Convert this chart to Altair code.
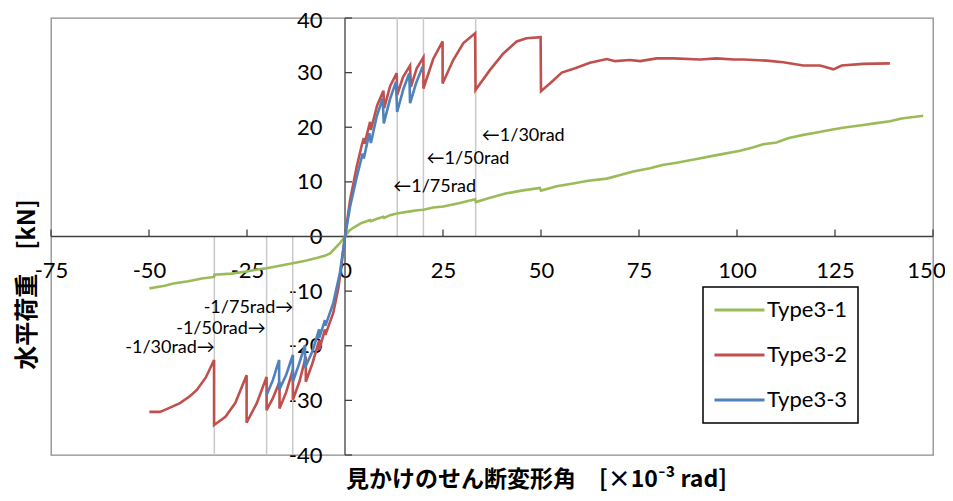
import altair as alt
import pandas as pd

# ---- data ----
series_names = ["Type3-1", "Type3-2", "Type3-3"]
series_colors = ["#9BBB59", "#C0504D", "#4F81BD"]

type3_1_x = [-49.9, -46.0, -43.8, -40.0, -36.5, -33.4, -33.3, -29.0, -25.1, -22.0, -20.0, -17.0,
             -14.0, -12.0, -9.8, -7.0, -5.0, -3.8, -3.0, -1.3, 0.0, 1.0, 2.1, 4.0, 5.5, 6.4, 6.6,
             8.0, 9.8, 10.0, 11.5, 13.2, 16.6, 18.5, 20.0, 22.5, 25.1, 29.0, 33.2, 33.4, 37.0, 41.2,
             45.0, 49.7, 50.0, 54.0, 58.2, 62.0, 66.8, 70.0, 73.5, 77.8, 81.0, 84.6, 89.7, 94.8,
             100.8, 104.0, 106.7, 110.1, 113.0, 116.9, 120.0, 123.7, 127.0, 132.2, 136.0, 139.0,
             142.0, 147.5]
type3_1_y = [-9.5, -9.0, -8.6, -8.2, -7.7, -7.4, -7.0, -6.8, -6.4, -6.0, -5.8, -5.4,
             -5.0, -4.7, -4.4, -3.9, -3.5, -3.1, -2.5, -1.2, 0.0, 1.0, 1.6, 2.4, 2.8, 3.0, 2.8,
             3.2, 3.6, 3.4, 3.9, 4.2, 4.6, 4.8, 4.9, 5.3, 5.5, 6.1, 6.8, 6.3, 7.1, 7.9,
             8.4, 8.9, 8.4, 9.2, 9.7, 10.2, 10.6, 11.2, 11.9, 12.5, 13.1, 13.5, 14.2, 14.9,
             15.7, 16.3, 16.9, 17.2, 18.0, 18.6, 19.0, 19.5, 19.9, 20.4, 20.8, 21.1,
             21.6, 22.1]

type3_2_x = [-49.9, -47.2, -45.5, -42.1, -39.5, -37.8, -35.5, -33.4, -33.4, -30.5, -28.0, -25.1,
             -25.1, -22.5, -20.0, -20.0, -18.4, -16.7, -16.7, -15.0, -13.3, -13.3, -11.6, -10.0,
             -10.0, -8.3, -6.6, -6.6, -5.1, -5.0, -4.5, -3.0, -1.7, -0.9, 0.0,
             1.3, 3.0, 4.3, 4.8, 5.0, 6.4, 6.6, 8.2, 9.8, 10.0, 11.5, 13.2, 13.3, 14.8, 16.6, 16.8,
             18.3, 20.0, 20.0, 22.5, 24.9, 24.9, 27.6, 30.2, 33.2, 33.3, 37.0, 40.4, 43.8, 46.3,
             49.9, 50.0, 52.7, 55.3, 58.7, 62.5, 66.8, 68.9, 72.7, 75.3, 79.5, 83.8, 90.6, 94.8,
             99.1, 101.6, 107.6, 111.8, 116.9, 121.2, 124.6, 126.7, 132.2, 139.0]
type3_2_y = [-32.1, -32.1, -31.6, -30.5, -29.2, -28.1, -25.8, -22.6, -34.5, -33.0, -30.5, -25.4,
             -34.1, -30.5, -25.7, -31.8, -29.6, -26.6, -31.5, -28.5, -24.4, -29.9, -26.5, -22.0,
             -26.6, -23.2, -19.0, -20.8, -17.0, -18.0, -17.0, -14.0, -9.5, -5.2, 0.0,
             6.7, 12.8, 16.8, 18.0, 17.0, 21.0, 19.5, 24.0, 26.7, 23.5, 27.5, 29.9, 25.9, 29.2, 31.3, 27.4,
             30.8, 32.8, 27.1, 32.5, 35.7, 28.0, 32.3, 35.4, 37.2, 26.8, 30.5, 33.5, 35.7, 36.3,
             36.5, 26.6, 28.3, 30.0, 30.8, 31.8, 32.5, 32.1, 32.3, 32.1, 32.6, 32.6, 32.4, 32.6,
             32.4, 32.4, 32.2, 31.9, 31.3, 31.3, 30.6, 31.3, 31.6, 31.7]

type3_3_x = [-20.0, -18.4, -16.8, -16.8, -15.0, -13.3, -13.3, -11.8, -10.2, -10.2, -8.3, -6.6,
             -6.6, -5.1, -5.0, -4.5, -3.0, -1.3, 0.0,
             1.3, 3.0, 4.5, 4.8, 6.2, 6.6, 8.1, 9.6, 9.9, 11.5, 13.0, 13.3, 14.9, 16.4, 16.6,
             18.2, 19.8]
type3_3_y = [-29.0, -26.3, -22.6, -28.1, -25.3, -21.7, -26.6, -23.5, -19.9, -24.0, -21.0, -17.0,
             -18.6, -15.3, -16.3, -15.3, -12.2, -6.7, 0.0,
             5.5, 10.9, 15.2, 14.3, 18.9, 17.1, 22.0, 25.3, 20.7, 25.2, 28.3, 22.8, 27.0, 29.9, 24.4,
             28.2, 31.1]

x_tick_values = [-75, -50, -25, 0, 25, 50, 75, 100, 125, 150]
y_tick_values = [-40, -30, -20, -10, 0, 10, 20, 30, 40]

ref_x = [13.33, 20.0, 33.33, -13.33, -20.0, -33.33]
ref_y2 = [40, 40, 40, -40, -40, -40]

ann_pos_text = ["←1/75rad", "←1/50rad", "←1/30rad"]
ann_pos_x = [12.3, 20.8, 34.9]
ann_pos_y = [9.15, 14.2, 18.4]
ann_neg_text = ["-1/75rad→", "-1/50rad→", "-1/30rad→"]
ann_neg_x = [-13.2, -20.2, -33.2]
ann_neg_y = [-13.1, -16.9, -20.4]

x_title = "見かけのせん断変形角\u3000[×10⁻³ rad]"
y_title = "水平荷重\u3000[kN]"

# ---- tables ----
rows = []
for name, xs, ys in [("Type3-1", type3_1_x, type3_1_y),
                     ("Type3-2", type3_2_x, type3_2_y),
                     ("Type3-3", type3_3_x, type3_3_y)]:
    assert len(xs) == len(ys), name
    for i, (a, b) in enumerate(zip(xs, ys)):
        rows.append({"series": name, "x": a, "y": b, "i": i})
lines_df = pd.DataFrame(rows)

xscale = alt.Scale(domain=[-75, 150], nice=False, zero=False)
yscale = alt.Scale(domain=[-40, 40], nice=False, zero=False)

LABEL_FONT = "Lato, 'Noto Sans CJK JP', sans-serif"
TITLE_FONT = "'Noto Sans CJK JP', Lato, sans-serif"
AXIS_COLOR = "#404040"

ref_df = pd.DataFrame({"x": ref_x, "y": [0] * len(ref_x), "y2": ref_y2})
refs = alt.Chart(ref_df).mark_rule(color="#C9C9C9", strokeWidth=1.5).encode(
    x=alt.X("x:Q", scale=xscale),
    y=alt.Y("y:Q", scale=yscale),
    y2="y2:Q",
)

zero_df = pd.DataFrame({"x": [0], "y": [0]})
zero_v = alt.Chart(zero_df).mark_rule(color=AXIS_COLOR, strokeWidth=1.3).encode(
    x=alt.X("x:Q", scale=xscale))
zero_h = alt.Chart(zero_df).mark_rule(color=AXIS_COLOR, strokeWidth=1.3).encode(
    y=alt.Y("y:Q", scale=yscale))

xt_df = pd.DataFrame({"x": x_tick_values, "y": [0] * len(x_tick_values)})
x_ticks = alt.Chart(xt_df).mark_tick(orient="vertical", size=7, thickness=1.3,
                                      color=AXIS_COLOR, yOffset=-3.5, opacity=1).encode(
    x=alt.X("x:Q", scale=xscale),
    y=alt.Y("y:Q", scale=yscale))
yt_df = pd.DataFrame({"x": [0] * len(y_tick_values), "y": y_tick_values})
y_ticks = alt.Chart(yt_df).mark_tick(orient="horizontal", size=7, thickness=1.3,
                                      color=AXIS_COLOR, xOffset=3.5, opacity=1).encode(
    x=alt.X("x:Q", scale=xscale),
    y=alt.Y("y:Q", scale=yscale))

lines = alt.Chart(lines_df).mark_line(strokeWidth=2.6).encode(
    x=alt.X("x:Q", scale=xscale,
            axis=alt.Axis(values=x_tick_values, orient="bottom", offset=-218.5,
                          domain=False, ticks=False, tickSize=0, grid=False,
                          labelExpr="'' + datum.value",
                          labelPadding=33.5, labelBaseline="middle", labelFont=LABEL_FONT,
                          labelFontSize=22, labelColor="black", labelFlush=False,
                          labelOverlap=False, labelBound=False,
                          labelOffset={"condition": {"test": "datum.value == 150", "value": -7},
                                       "value": 0},
                          title=x_title, titleFont=TITLE_FONT, titleFontSize=23,
                          titleFontWeight="bold", titleColor="black",
                          titleX=485, titleY=243, titleAlign="center",
                          titleBaseline="middle", titleAnchor="middle")),
    y=alt.Y("y:Q", scale=yscale,
            axis=alt.Axis(values=y_tick_values, orient="left", offset=-294,
                          domain=False, ticks=False, tickSize=0, grid=False,
                          labelExpr="'' + datum.value",
                          labelPadding=23, labelFont=LABEL_FONT, labelFontSize=22,
                          labelColor="black", labelFlush=False, labelOverlap=False,
                          labelBound=False,
                          labelOffset={"condition": {"test": "datum.value == 40", "value": 2},
                                       "value": 0},
                          title=y_title, titleFont=TITLE_FONT, titleFontSize=24,
                          titleFontWeight="bold", titleColor="black",
                          titleX=-318, titleY=266, titleAngle=270, titleAlign="center",
                          titleBaseline="middle", titleAnchor="middle")),
    color=alt.Color("series:N",
                    scale=alt.Scale(domain=series_names, range=series_colors),
                    legend=alt.Legend(title=None, orient="none", legendX=652, legendY=269,
                                      direction="vertical", symbolType="stroke",
                                      symbolSize=2500, symbolStrokeWidth=3,
                                      labelFont=LABEL_FONT, labelFontSize=22,
                                      labelColor="black", labelOffset=1, rowPadding=19,
                                      clipHeight=26,
                                      padding=10, strokeColor="black", fillColor="white")),
    order=alt.Order("i:Q"),
)

pos_df = pd.DataFrame({"x": ann_pos_x, "y": ann_pos_y, "t": ann_pos_text})
ann_pos = alt.Chart(pos_df).mark_text(align="left", baseline="middle", font=LABEL_FONT,
                                      fontSize=18, color="black").encode(
    x=alt.X("x:Q", scale=xscale),
    y=alt.Y("y:Q", scale=yscale),
    text="t:N")
neg_df = pd.DataFrame({"x": ann_neg_x, "y": ann_neg_y, "t": ann_neg_text})
ann_neg = alt.Chart(neg_df).mark_text(align="right", baseline="middle", font=LABEL_FONT,
                                      fontSize=18, color="black").encode(
    x=alt.X("x:Q", scale=xscale),
    y=alt.Y("y:Q", scale=yscale),
    text="t:N")

chart = alt.layer(refs, zero_v, zero_h, x_ticks, y_ticks, lines, ann_pos, ann_neg).properties(
    width=882, height=437,
    padding={"left": 43, "top": 10, "right": 12, "bottom": 38},
    autosize=alt.AutoSizeParams(type="none"),
).configure(background="white").configure_view(
    stroke="#8C8C8C", strokeWidth=1.3
).configure_legend(strokeWidth=1.5)

chart.save("out.html", embed_options={"renderer": "svg", "actions": False})
